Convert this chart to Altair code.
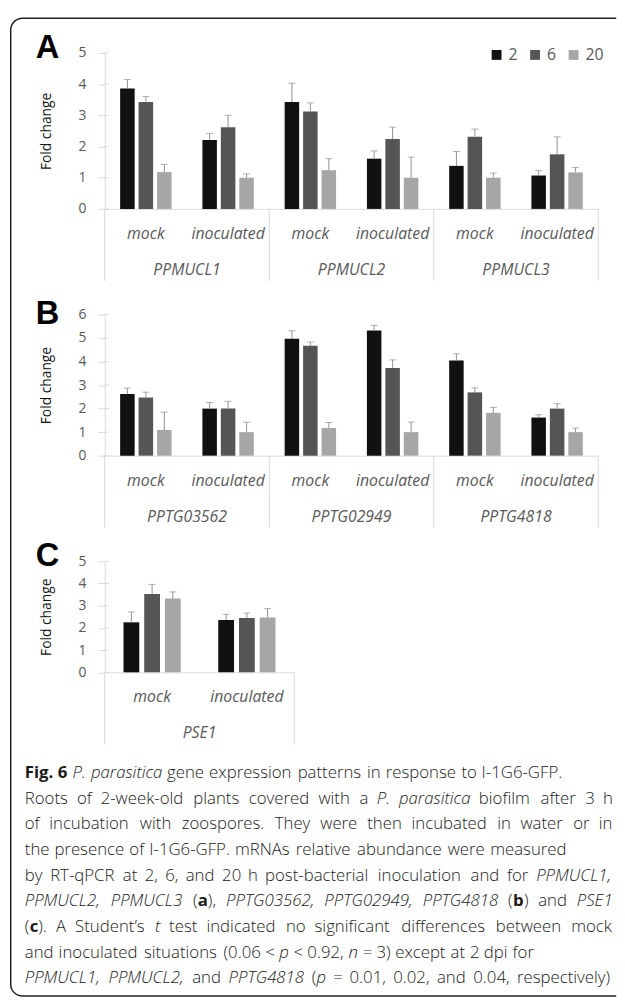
import altair as alt
import pandas as pd

# ---------------- data ----------------
times = ["2", "6", "20"]
conditions = ["mock", "inoculated"]

genes_a = ["PPMUCL1", "PPMUCL2", "PPMUCL3"]
# one row per gene x condition (mock, inoculated); columns = 2, 6, 20 h
mean_a = [[3.86, 3.43, 1.18], [2.21, 2.62, 1.00],
          [3.43, 3.12, 1.24], [1.61, 2.24, 1.00],
          [1.38, 2.31, 1.00], [1.07, 1.75, 1.17]]
err_a = [[0.29, 0.17, 0.25], [0.21, 0.38, 0.12],
         [0.60, 0.28, 0.37], [0.25, 0.38, 0.66],
         [0.46, 0.25, 0.15], [0.16, 0.56, 0.16]]

genes_b = ["PPTG03562", "PPTG02949", "PPTG4818"]
mean_b = [[2.62, 2.47, 1.09], [2.00, 2.00, 1.00],
          [4.97, 4.67, 1.18], [5.32, 3.73, 1.00],
          [4.05, 2.69, 1.82], [1.62, 2.00, 1.00]]
err_b = [[0.25, 0.23, 0.76], [0.26, 0.31, 0.42],
         [0.34, 0.16, 0.23], [0.22, 0.34, 0.43],
         [0.28, 0.19, 0.23], [0.12, 0.21, 0.17]]

genes_c = ["PSE1"]
mean_c = [[2.25, 3.53, 3.32], [2.36, 2.45, 2.47]]
err_c = [[0.47, 0.43, 0.30], [0.25, 0.22, 0.40]]

caption_lines = [
    [("Fig. 6", "b"), (" P. parasitica", "i"), (" gene expression patterns in response to I-1G6-GFP.", "n")],
    [("Roots of 2-week-old plants covered with a", "n"), (" P. parasitica", "i"), (" biofilm after 3 h", "n")],
    [("of incubation with zoospores. They were then incubated in water or in", "n")],
    [("the presence of I-1G6-GFP. mRNAs relative abundance were measured", "n")],
    [("by RT-qPCR at 2, 6, and 20 h post-bacterial inoculation and for", "n"), (" PPMUCL1,", "i")],
    [("PPMUCL2, PPMUCL3", "i"), (" (", "n"), ("a", "b"), ("),", "n"),
     (" PPTG03562, PPTG02949, PPTG4818", "i"), (" (", "n"), ("b", "b"), (") and", "n"), (" PSE1", "i")],
    [("(", "n"), ("c", "b"), ("). A Student\u2019s", "n"), (" t", "i"),
     (" test indicated no significant differences between mock", "n")],
    [("and inoculated situations (0.06 <", "n"), (" p", "i"), (" < 0.92,", "n"), (" n", "i"),
     (" = 3) except at 2 dpi for", "n")],
    [("PPMUCL1, PPMUCL2,", "i"), (" and", "n"), (" PPTG4818", "i"), (" (", "n"), ("p", "i"),
     (" = 0.01, 0.02, and 0.04, respectively)", "n")],
]

# ---------------- style ----------------
FONT = "Open Sans"
LABEL_GREY = "#595959"
AXIS_GREY = "#d9d9d9"
BAR_COLORS = ["#111111", "#555555", "#a6a6a6"]
ERR_COLOR = "#8f8f8f"
INK = "#1a1a1a"

SPACING = 107
PANEL_TOP = 47          # page y of panel A plot top
PANEL_LEFT = 106        # page x of plot left


def make_df(genes, means, errs):
    rows = []
    k = 0
    for g in genes:
        for c in conditions:
            for t, m, e in zip(times, means[k], errs[k]):
                rows.append({"cat": f"{g}|{c}", "time": t, "value": m,
                             "upper": round(m + e, 3)})
            k += 1
    return pd.DataFrame(rows)


def panel(genes, means, errs, ymax, width, height, letter, letter_y,
          bar_w, bar_gap, legend=False, frame=False):
    df = make_df(genes, means, errs)
    cats = [f"{g}|{c}" for g in genes for c in conditions]
    band = width / len(cats)
    step = bar_w + bar_gap
    pin = bar_gap / step
    pout = (band / step - (3 - pin)) / 2

    xscale = alt.Scale(domain=cats, paddingInner=0, paddingOuter=0)
    xaxis = alt.Axis(title=None, labelExpr="split(datum.value, '|')[1]", labelAngle=0,
                     labelFont=FONT, labelFontSize=16, labelFontStyle="italic",
                     labelColor=LABEL_GREY, labelPadding=25, labelBaseline="middle",
                     ticks=False, tickSize=0, domainColor=AXIS_GREY, domainWidth=1,
                     grid=False)
    xo = alt.XOffset("time:N", sort=times,
                     scale=alt.Scale(domain=times, paddingInner=pin, paddingOuter=pout))
    yscale = alt.Scale(domain=[0, ymax], nice=False)
    yaxis = alt.Axis(values=list(range(ymax + 1)), format="d", title="Fold change",
                     titleFont=FONT, titleFontSize=14, titleFontWeight="normal",
                     titleColor="#111111", titleX=-52, titleY=height / 2,
                     labelFont=FONT, labelFontSize=14, labelColor=LABEL_GREY,
                     labelPadding=12, tickSize=7, tickColor=AXIS_GREY, tickWidth=1,
                     domainColor=AXIS_GREY, domainWidth=1, grid=False)

    def X(**kw):
        return alt.X("cat:N", scale=xscale, sort=cats, axis=xaxis, **kw)

    if legend:
        leg = alt.Legend(orient="none", legendX=389, legendY=-6, direction="horizontal",
                         title=None, symbolType="square", symbolSize=100,
                         symbolStrokeWidth=0, labelFont=FONT, labelFontSize=16,
                         labelColor=LABEL_GREY, labelOffset=4, columnPadding=9,
                         padding=0, symbolOpacity=1)
    else:
        leg = None
    color = alt.Color("time:N", sort=times,
                      scale=alt.Scale(domain=times, range=BAR_COLORS), legend=leg)

    # inner half of the crossing y-axis tick marks
    inner = alt.Chart(pd.DataFrame({"tick": list(range(ymax + 1))})).mark_rule(
        color=AXIS_GREY, strokeWidth=1).encode(
        y=alt.Y("tick:Q", scale=yscale, axis=yaxis), x=alt.value(0), x2=alt.value(4))

    bars = alt.Chart(df).mark_bar().encode(
        x=X(), xOffset=xo, y=alt.Y("value:Q", scale=yscale, axis=yaxis), color=color)
    whisk = alt.Chart(df).mark_rule(color=ERR_COLOR, strokeWidth=1).encode(
        x=X(), xOffset=xo, y=alt.Y("value:Q", scale=yscale, axis=yaxis), y2="upper:Q")
    caps = alt.Chart(df).mark_tick(color=ERR_COLOR, thickness=1, size=7).encode(
        x=X(), xOffset=xo, y=alt.Y("upper:Q", scale=yscale, axis=yaxis))

    seps = alt.Chart(pd.DataFrame({"cat": [f"{g}|mock" for g in genes]})).mark_rule(
        color=AXIS_GREY, strokeWidth=1).encode(
        x=X(bandPosition=0), y=alt.value(height), y2=alt.value(height + 73))
    sep_end = alt.Chart(pd.DataFrame({"cat": [cats[-1]]})).mark_rule(
        color=AXIS_GREY, strokeWidth=1).encode(
        x=X(bandPosition=1), y=alt.value(height), y2=alt.value(height + 73))
    gene_txt = alt.Chart(pd.DataFrame({"cat": [f"{g}|inoculated" for g in genes],
                                       "gene": genes})).mark_text(
        font=FONT, fontSize=16, fontStyle="italic", color=LABEL_GREY,
        baseline="middle", align="center").encode(
        x=X(bandPosition=0), y=alt.value(height + 62), text="gene:N")
    letter_txt = alt.Chart(pd.DataFrame({"t": [letter]})).mark_text(
        font="Liberation Sans", fontSize=33, fontWeight="bold", align="left",
        baseline="alphabetic", color="#000000").encode(
        x=alt.value(-70), y=alt.value(letter_y), text="t:N")

    layers = [bars, inner, whisk, caps, seps, sep_end, gene_txt, letter_txt]
    if frame:
        fx0, fx1, fy0, fy1, rad = -95.25, 518.2, -35.25, 955.5, 12
        top_len = (fx1 - fx0) - rad
        right_len = fy1 - fy0
        box = alt.Chart(pd.DataFrame({"k": [0]})).mark_rect(
            fillOpacity=0, stroke="#231f20", strokeWidth=1.5,
            cornerRadiusTopLeft=rad, cornerRadiusBottomLeft=rad,
            strokeDash=[top_len, right_len, 4000]).encode(
            x=alt.value(fx0), x2=alt.value(fx1), y=alt.value(fy0), y2=alt.value(fy1))
        layers = [box] + layers
    return alt.layer(*layers).properties(width=width, height=height)


pa = panel(genes_a, mean_a, err_a, 5, 500, 158, "A", 5, 14.7, 4.0, legend=True, frame=True)
pb = panel(genes_b, mean_b, err_b, 6, 500, 143, "B", 10, 14.7, 4.0)
pc = panel(genes_c, mean_c, err_c, 5, 192, 112.5, "C", 5, 16.0, 5.0)

# ---------------- caption (word layout) ----------------
EM = {" ": .26, "a": .556, "b": .613, "c": .476, "d": .613, "e": .561, "f": .339,
      "g": .548, "h": .614, "i": .253, "j": .253, "k": .525, "l": .253, "m": .930,
      "n": .614, "o": .604, "p": .613, "q": .613, "r": .408, "s": .477, "t": .353,
      "u": .614, "v": .501, "w": .778, "x": .524, "y": .502, "z": .477,
      "A": .633, "B": .648, "C": .631, "D": .729, "E": .556, "F": .516, "G": .728,
      "H": .738, "I": .279, "K": .617, "L": .518, "M": .903, "N": .754, "P": .610,
      "R": .627, "S": .539, "T": .544, "U": .732, ".": .266, ",": .245, "-": .322,
      "(": .296, ")": .296, "<": .572, "=": .572, "\u2019": .191}
for d in "0123456789":
    EM[d] = .572
STYLE_K = {"n": 0.985, "i": 0.95, "b": 1.08}
CAP_FS = 17
CAP_LEFT = 25
LINE_RIGHT = {1: 621, 2: 621, 4: 621, 5: 621, 6: 621, 8: 621}
CAP_Y0, CAP_DY = 776, 26


def wlen(txt, st):
    return sum(EM.get(ch, .56) for ch in txt) * CAP_FS * STYLE_K[st]


rows = []
for li, segs in enumerate(caption_lines):
    toks = []
    pending = False
    for txt, st in segs:
        for j, w in enumerate(txt.split(" ")):
            if j > 0:
                pending = True
            if w:
                toks.append((w, st, pending and len(toks) > 0))
                pending = False
    space = EM[" "] * CAP_FS
    ngaps = sum(1 for t in toks if t[2])
    nat = sum(wlen(w, s) for w, s, _ in toks) + space * ngaps
    if li in LINE_RIGHT and ngaps:
        space += max(0.0, (LINE_RIGHT[li] - CAP_LEFT) - nat) / ngaps
    x = CAP_LEFT
    for w, s, sp in toks:
        if sp:
            x += space
        rows.append({"line": li, "px": x, "word": w, "style": s})
        x += wlen(w, s)
cap_df = pd.DataFrame(rows)

cap_top = PANEL_TOP + 158 + SPACING + 143 + SPACING + 112.5 + SPACING
cap_x = alt.X("px:Q", scale=alt.Scale(domain=[0, 625], range=[-PANEL_LEFT, 625 - PANEL_LEFT]), axis=None)
cap_y = alt.Y("line:Q", scale=alt.Scale(domain=[0, 8],
                                         range=[CAP_Y0 - cap_top, CAP_Y0 + 8 * CAP_DY - cap_top]),
              axis=None)
cap_layers = []
for st, kw in [("n", {"fontWeight": 300}), ("i", {"fontStyle": "italic", "fontWeight": 300}),
               ("b", {"fontWeight": "bold"})]:
    cap_layers.append(
        alt.Chart(cap_df).transform_filter(alt.datum.style == st).mark_text(
            font=FONT, fontSize=CAP_FS, color=INK, align="left", baseline="middle", **kw
        ).encode(x=cap_x, y=cap_y, text="word:N"))
cap = alt.layer(*cap_layers).properties(width=500, height=200)

chart = alt.vconcat(pa, pb, pc, cap, spacing=SPACING, bounds="flush").resolve_scale(
    x="independent", y="independent", color="independent", xOffset="independent"
).configure_view(stroke=None).properties(
    padding={"left": 2, "top": 3, "right": 0, "bottom": 0})

chart.save("out.html", embed_options={"renderer": "svg", "actions": False})
